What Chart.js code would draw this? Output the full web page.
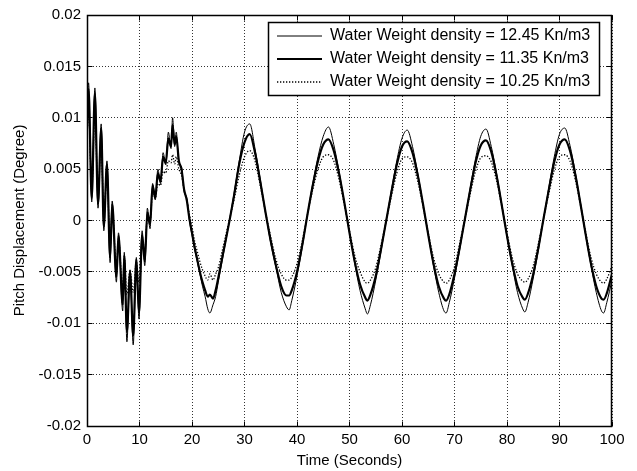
<!DOCTYPE html>
<html>
<head>
<meta charset="utf-8">
<script src="https://cdn.jsdelivr.net/npm/chart.js@4.4.1/dist/chart.umd.min.js"></script>
<style>
html,body{margin:0;padding:0;background:#fff;}
canvas{display:block;}
</style>
</head>
<body>
<canvas id="c" width="637" height="471"></canvas>
<script>
// ---- data ----
const time = [
  0, 0.3, 0.9, 1.5, 2.1, 2.7, 3.2, 3.8, 4.4, 4.8,
  5.6, 6.0, 6.8, 7.1, 7.6, 8.2, 8.8, 9.4, 9.9, 10.5,
  11.0, 11.5, 12.0, 12.5, 13.0, 13.5, 14.0, 14.5, 15.0, 15.5,
  16.0, 16.3, 16.7, 17.0, 17.5, 18.0, 18.5, 19.0, 19.5, 20.0,
  20.5, 21.0, 21.5, 22.0, 22.5, 23.0, 23.4, 24.0, 24.5, 25,
  26, 27, 28, 29, 30, 31, 32, 33, 34, 35,
  36, 37, 38, 38.5, 39, 40, 41, 42, 43, 44,
  45, 46, 47, 48, 49, 50, 51, 52, 53, 53.4,
  54, 55, 56, 57, 58, 59, 60, 61, 62, 63,
  64, 65, 66, 67, 68, 68.4, 69, 70, 71, 72,
  73, 74, 75, 76, 77, 78, 79, 80, 81, 82,
  83, 83.4, 84, 85, 86, 87, 88, 89, 90, 91,
  92, 93, 94, 95, 96, 97, 98, 98.4, 99, 100
];

const pitch1245 = [
  0.0095, 0.0134, 0.0018, 0.0129, 0.0012, 0.0094, -0.0010, 0.0058, -0.0041, 0.0019,
  -0.0060, -0.0012, -0.0088, -0.0031, -0.0118, -0.0048, -0.0121, -0.0036, -0.0096, -0.0010,
  -0.0044, 0.0012, -0.0008, 0.0036, 0.0020, 0.0050, 0.0036, 0.0066, 0.0054, 0.0086,
  0.0070, 0.0100, 0.0072, 0.0086, 0.0056, 0.0052, 0.0028, 0.0022, 0.0000, -0.0014,
  -0.0028, -0.0040, -0.0052, -0.0064, -0.0074, -0.0086, -0.0090, -0.0082, -0.0074, -0.0060,
  -0.0032, -0.0004, 0.0026, 0.0058, 0.0086, 0.0094, 0.0070, 0.0040, 0.0008, -0.0022,
  -0.0046, -0.0070, -0.0084, -0.0087, -0.0078, -0.0054, -0.0026, 0.0006, 0.0036, 0.0062,
  0.0082, 0.0091, 0.0074, 0.0048, 0.0018, -0.0012, -0.0042, -0.0068, -0.0086, -0.0091,
  -0.0082, -0.0058, -0.0030, 0.0000, 0.0030, 0.0058, 0.0080, 0.0088, 0.0072, 0.0046,
  0.0016, -0.0014, -0.0044, -0.0070, -0.0088, -0.0090, -0.0080, -0.0056, -0.0028, 0.0002,
  0.0032, 0.0060, 0.0082, 0.0089, 0.0072, 0.0046, 0.0016, -0.0016, -0.0044, -0.0070,
  -0.0086, -0.0089, -0.0080, -0.0056, -0.0028, 0.0003, 0.0033, 0.0062, 0.0084, 0.0090,
  0.0073, 0.0047, 0.0017, -0.0015, -0.0044, -0.0070, -0.0088, -0.0090, -0.0080, -0.0058
];

const pitch1135 = [
  0.0090, 0.0128, 0.0022, 0.0124, 0.0016, 0.0090, -0.0006, 0.0055, -0.0036, 0.0016,
  -0.0055, -0.0015, -0.0082, -0.0034, -0.0108, -0.0050, -0.0112, -0.0038, -0.0090, -0.0014,
  -0.0040, 0.0008, -0.0004, 0.0034, 0.0022, 0.0046, 0.0038, 0.0062, 0.0056, 0.0080,
  0.0072, 0.0093, 0.0074, 0.0082, 0.0058, 0.0050, 0.0030, 0.0020, 0.0002, -0.0012,
  -0.0026, -0.0038, -0.0050, -0.0060, -0.0068, -0.0074, -0.0072, -0.0076, -0.0068, -0.0056,
  -0.0030, -0.0004, 0.0024, 0.0055, 0.0076, 0.0084, 0.0066, 0.0038, 0.0008, -0.0020,
  -0.0044, -0.0064, -0.0073, -0.0073, -0.0068, -0.0050, -0.0024, 0.0006, 0.0034, 0.0058,
  0.0074, 0.0079, 0.0068, 0.0046, 0.0018, -0.0012, -0.0040, -0.0062, -0.0075, -0.0078,
  -0.0072, -0.0054, -0.0028, 0.0000, 0.0028, 0.0054, 0.0072, 0.0077, 0.0066, 0.0044,
  0.0016, -0.0014, -0.0042, -0.0064, -0.0076, -0.0078, -0.0072, -0.0052, -0.0026, 0.0002,
  0.0030, 0.0056, 0.0073, 0.0078, 0.0067, 0.0044, 0.0015, -0.0015, -0.0042, -0.0064,
  -0.0075, -0.0077, -0.0071, -0.0052, -0.0026, 0.0003, 0.0031, 0.0057, 0.0074, 0.0079,
  0.0068, 0.0045, 0.0016, -0.0014, -0.0042, -0.0064, -0.0076, -0.0077, -0.0071, -0.0052
];

const pitch1025 = [
  0.0080, 0.0110, 0.0030, 0.0105, 0.0024, 0.0078, 0.0002, 0.0046, -0.0026, 0.0010,
  -0.0045, -0.0018, -0.0066, -0.0036, -0.0072, -0.0048, -0.0070, -0.0040, -0.0060, -0.0020,
  -0.0030, 0.0002, 0.0000, 0.0026, 0.0022, 0.0036, 0.0034, 0.0048, 0.0046, 0.0058,
  0.0056, 0.0064, 0.0055, 0.0062, 0.0050, 0.0044, 0.0030, 0.0020, 0.0006, -0.0006,
  -0.0020, -0.0030, -0.0040, -0.0048, -0.0054, -0.0058, -0.0052, -0.0058, -0.0052, -0.0046,
  -0.0024, -0.0002, 0.0020, 0.0044, 0.0062, 0.0068, 0.0058, 0.0034, 0.0008, -0.0016,
  -0.0038, -0.0052, -0.0058, -0.0058, -0.0055, -0.0042, -0.0020, 0.0006, 0.0030, 0.0050,
  0.0062, 0.0064, 0.0058, 0.0040, 0.0016, -0.0010, -0.0034, -0.0050, -0.0060, -0.0061,
  -0.0058, -0.0046, -0.0024, 0.0000, 0.0024, 0.0046, 0.0060, 0.0062, 0.0056, 0.0038,
  0.0014, -0.0012, -0.0036, -0.0052, -0.0060, -0.0061, -0.0058, -0.0045, -0.0022, 0.0002,
  0.0026, 0.0048, 0.0061, 0.0063, 0.0057, 0.0039, 0.0014, -0.0012, -0.0036, -0.0052,
  -0.0059, -0.0060, -0.0057, -0.0044, -0.0022, 0.0003, 0.0027, 0.0049, 0.0062, 0.0064,
  0.0058, 0.0040, 0.0015, -0.0012, -0.0036, -0.0052, -0.0060, -0.0061, -0.0057, -0.0044
];

const seriesLabels = [
  'Water Weight density = 12.45 Kn/m3',
  'Water Weight density = 11.35 Kn/m3',
  'Water Weight density = 10.25 Kn/m3'
];
const xTickLabels = ['0', '10', '20', '30', '40', '50', '60', '70', '80', '90', '100'];
const yTickLabels = ['-0.02', '-0.015', '-0.01', '-0.005', '0', '0.005', '0.01', '0.015', '0.02'];
const xTitle = 'Time (Seconds)';
const yTitle = 'Pitch Displacement (Degree)';

// ---- chart ----
const FONT = "'Liberation Sans', Arial, Helvetica, sans-serif";
Chart.defaults.font.family = FONT;
Chart.defaults.font.size = 15;
Chart.defaults.color = '#000';

const toPoints = (vals) => time.map((t, i) => ({x: t, y: vals[i]}));

const LEGEND_BOX = {left: 268, top: 22, right: 599, bottom: 95};

const legendFrame = {
  id: 'legendFrame',
  afterLayout(chart) {
    const lg = chart.legend;
    if (!lg) return;
    lg.left = LEGEND_BOX.left + 2;
    lg.top = LEGEND_BOX.top - 1;
    lg.right = LEGEND_BOX.right;
    lg.bottom = LEGEND_BOX.bottom + 20;
    lg.width = lg.right - lg.left;
    lg.height = lg.bottom - lg.top;
    if (!lg._framed) {
      const orig = lg.draw;
      lg.draw = function (area) {
        const ctx = this.ctx;
        const b = LEGEND_BOX;
        ctx.save();
        ctx.fillStyle = '#fff';
        ctx.fillRect(b.left, b.top, b.right - b.left, b.bottom - b.top);
        ctx.restore();
        orig.call(this, area);
        ctx.save();
        ctx.strokeStyle = '#000';
        ctx.lineWidth = 1.5;
        ctx.setLineDash([]);
        ctx.strokeRect(b.left + 0.5, b.top + 0.5, b.right - b.left, b.bottom - b.top);
        ctx.restore();
      };
      lg._framed = true;
    }
  }
};

const axesFrame = {
  id: 'axesFrame',
  afterDatasetsDraw(chart) {
    const {ctx, chartArea: a, scales: {x, y}} = chart;
    const L = Math.floor(a.left) + 0.5, R = Math.floor(a.right) - 0.5;
    const T = Math.floor(a.top) + 0.5, B = Math.floor(a.bottom) + 0.5;
    ctx.save();
    ctx.strokeStyle = '#000';
    ctx.setLineDash([]);
    ctx.lineWidth = 1;
    ctx.beginPath();
    const tl = 5;
    x.ticks.forEach(t => {
      const px = Math.floor(x.getPixelForValue(t.value)) + 0.5;
      ctx.moveTo(px, B); ctx.lineTo(px, B - tl);
      ctx.moveTo(px, T); ctx.lineTo(px, T + tl);
    });
    y.ticks.forEach(t => {
      const py = Math.floor(y.getPixelForValue(t.value)) + 0.5;
      ctx.moveTo(L, py); ctx.lineTo(L + tl, py);
      ctx.moveTo(R, py); ctx.lineTo(R - tl, py);
    });
    ctx.stroke();
    ctx.lineWidth = 1.5;
    ctx.strokeRect(L, T, R - L, B - T);
    ctx.restore();
  }
};

new Chart(document.getElementById('c'), {
  type: 'line',
  data: {
    datasets: [
      {
        label: seriesLabels[0],
        data: toPoints(pitch1245),
        borderColor: '#000',
        borderWidth: 1,
        pointRadius: 0,
        cubicInterpolationMode: 'monotone',
        fill: false
      },
      {
        label: seriesLabels[1],
        data: toPoints(pitch1135),
        borderColor: '#000',
        borderWidth: 2.2,
        pointRadius: 0,
        cubicInterpolationMode: 'monotone',
        fill: false
      },
      {
        label: seriesLabels[2],
        data: toPoints(pitch1025),
        borderColor: '#000',
        borderWidth: 1.3,
        borderDash: [1.3, 1.7],
        pointRadius: 0,
        cubicInterpolationMode: 'monotone',
        fill: false
      }
    ]
  },
  options: {
    responsive: false,
    animation: false,
    devicePixelRatio: 1,
    layout: {padding: {left: 0, right: 25, top: 14, bottom: 0}},
    plugins: {
      tooltip: {enabled: false},
      legend: {
        position: 'chartArea',
        align: 'start',
        labels: {
          usePointStyle: true,
          pointStyle: 'line',
          pointStyleWidth: 45,
          padding: 7,
          color: '#000',
          font: {family: FONT, size: 16},
          generateLabels(chart) {
            const items = Chart.defaults.plugins.legend.labels.generateLabels(chart);
            items.forEach(it => {
              const ds = chart.data.datasets[it.datasetIndex];
              it.lineDash = ds.borderDash || [];
              it.lineWidth = ds.borderWidth;
              it.strokeStyle = ds.borderColor;
            });
            return items;
          }
        }
      }
    },
    scales: {
      x: {
        type: 'linear',
        min: 0,
        max: 100,
        afterFit: (s) => { s.height = 45; },
        ticks: {
          stepSize: 10,
          padding: 5,
          maxRotation: 0,
          autoSkip: false,
          color: '#000',
          callback: (v, i) => xTickLabels[i]
        },
        grid: {color: 'rgba(0,0,0,0.8)', lineWidth: 1, drawTicks: false},
        border: {display: false, dash: [1, 2]},
        title: {display: true, text: xTitle, color: '#000', font: {size: 15}, padding: {top: 0, bottom: 1}}
      },
      y: {
        type: 'linear',
        min: -0.02,
        max: 0.02,
        afterFit: (s) => { s.width = 87; },
        ticks: {
          stepSize: 0.005,
          padding: 6,
          autoSkip: false,
          color: '#000',
          callback: (v, i) => yTickLabels[i]
        },
        grid: {color: 'rgba(0,0,0,0.8)', lineWidth: 1, drawTicks: false},
        border: {display: false, dash: [1, 2]},
        title: {display: true, text: yTitle, color: '#000', font: {size: 15}, padding: {top: 11, bottom: 0}}
      }
    }
  },
  plugins: [legendFrame, axesFrame]
});
</script>
</body>
</html>
